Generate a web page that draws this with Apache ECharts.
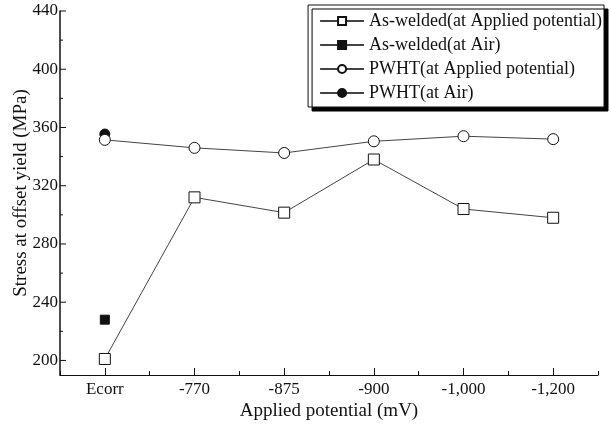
<!DOCTYPE html>
<html>
<head>
<meta charset="utf-8">
<script src="https://cdn.jsdelivr.net/npm/echarts@6/dist/echarts.min.js"></script>
<style>
  html, body { margin: 0; padding: 0; background: #fff; }
  #chart { width: 611px; height: 431px; }
</style>
</head>
<body>
<div id="chart"></div>
<script>
// Applied potential categories (mV)
const categories = ['Ecorr', '-770', '-875', '-900', '-1,000', '-1,200'];

// Stress at offset yield (MPa)
const asWeldedApplied = [201, 312, 301.5, 338, 304, 298];
const asWeldedAir = [228, null, null, null, null, null];
const pwhtApplied = [351.5, 346, 342.5, 350.5, 354, 352];
const pwhtAir = [355.5, null, null, null, null, null];

// Y axis tick values
const yMajorTicks = [200, 240, 280, 320, 360, 400, 440];
const yMinorTicks = [220, 260, 300, 340, 380, 420];

const FONT = 'Liberation Serif';
const INK = '#111';
const LINE = '#444';

const chart = echarts.init(document.getElementById('chart'), null, { renderer: 'canvas' });

function tickSeries(values, len) {
  return {
    type: 'custom',
    silent: true,
    z: 5,
    data: values.map(v => [0, v]),
    encode: { x: 0, y: 1 },
    renderItem: (params, api) => {
      const y = api.coord([0, api.value(1)])[1];
      const x0 = params.coordSys.x;
      return {
        type: 'line',
        shape: { x1: x0, y1: y, x2: x0 + len, y2: y },
        style: { stroke: INK, lineWidth: 1 }
      };
    }
  };
}

const openMark = { color: '#fff', borderColor: INK, borderWidth: 1 };
const solidMark = { color: INK, borderColor: INK, borderWidth: 1 };

chart.setOption({
  animation: false,
  backgroundColor: '#fff',
  grid: { left: 60, right: 13, top: 11, bottom: 56, containLabel: false, outerBoundsMode: 'none' },
  legend: {
    data: ['As-welded(at Applied potential)', 'As-welded(at Air)',
           'PWHT(at Applied potential)', 'PWHT(at Air)'],
    orient: 'vertical',
    right: 7,
    top: 5,
    itemWidth: 44,
    itemHeight: 10,
    itemGap: 6,
    padding: [7, 2, 5, 11],
    backgroundColor: '#fff',
    borderColor: INK,
    borderWidth: 1,
    shadowColor: '#000',
    shadowBlur: 0,
    shadowOffsetX: 4,
    shadowOffsetY: 4,
    textStyle: { fontFamily: FONT, fontSize: 18, color: INK, lineHeight: 18 }
  },
  xAxis: [
    {
      type: 'category',
      data: categories,
      boundaryGap: true,
      name: 'Applied potential (mV)',
      nameLocation: 'middle',
      nameGap: 27,
      nameMoveOverlap: false,
      nameTextStyle: { fontFamily: FONT, fontSize: 19, color: INK },
      axisLine: { lineStyle: { color: INK, width: 1.2 } },
      axisTick: { show: true, alignWithLabel: true, inside: true, length: 7, lineStyle: { color: INK } },
      axisLabel: { fontFamily: FONT, fontSize: 17, color: INK, margin: 6 },
      splitLine: { show: false }
    },
    {
      type: 'category',
      data: categories,
      boundaryGap: true,
      position: 'bottom',
      axisLine: { show: false },
      axisTick: { show: true, inside: true, length: 4, lineStyle: { color: INK } },
      axisLabel: { show: false },
      splitLine: { show: false }
    }
  ],
  yAxis: {
    type: 'value',
    min: 190,
    max: 440,
    interval: 10,
    name: 'Stress at offset yield (MPa)',
    nameLocation: 'middle',
    nameGap: 29,
    nameMoveOverlap: false,
    nameTextStyle: { fontFamily: FONT, fontSize: 19, color: INK },
    axisLine: { show: true, lineStyle: { color: INK, width: 1.5 } },
    axisTick: { show: false },
    axisLabel: {
      fontFamily: FONT, fontSize: 17, color: INK, margin: 2,
      formatter: v => (yMajorTicks.includes(v) ? String(v) : '')
    },
    splitLine: { show: false }
  },
  series: [
    {
      name: 'As-welded(at Applied potential)',
      type: 'line',
      data: asWeldedApplied,
      symbol: 'rect',
      symbolSize: 11,
      itemStyle: openMark,
      lineStyle: { color: LINE, width: 1 },
      z: 3
    },
    {
      name: 'As-welded(at Air)',
      type: 'line',
      data: asWeldedAir,
      symbol: 'rect',
      symbolSize: 9,
      itemStyle: solidMark,
      lineStyle: { color: LINE, width: 1 },
      z: 3
    },
    {
      name: 'PWHT(at Applied potential)',
      type: 'line',
      data: pwhtApplied,
      symbol: 'circle',
      symbolSize: 11,
      itemStyle: openMark,
      lineStyle: { color: LINE, width: 1 },
      z: 3
    },
    {
      name: 'PWHT(at Air)',
      type: 'line',
      data: pwhtAir,
      symbol: 'circle',
      symbolSize: 10,
      itemStyle: solidMark,
      lineStyle: { color: LINE, width: 1 },
      z: 2
    },
    tickSeries(yMajorTicks, 6),
    tickSeries(yMinorTicks, 3)
  ]
});
</script>
</body>
</html>
